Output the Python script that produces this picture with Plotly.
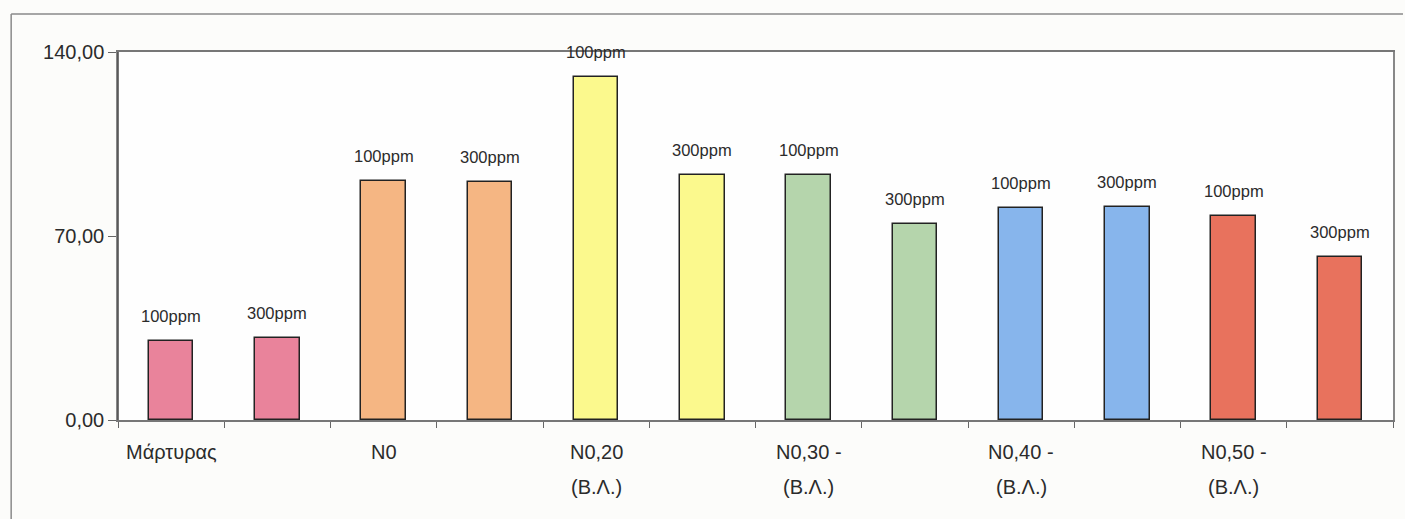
import plotly.graph_objects as go

# Bar heights (12 bars, two doses per treatment)
values = [30.0, 31.1, 90.9, 90.5, 130.5, 93.2, 93.2, 74.6, 80.7, 80.9, 77.7, 62.0]
doses = ["100ppm", "300ppm", "100ppm", "300ppm", "100ppm", "300ppm",
         "100ppm", "300ppm", "100ppm", "300ppm", "100ppm", "300ppm"]
# Treatment labels, one per pair of bars (line 1, line 2)
treatments_line1 = ["Μάρτυρας", "N0", "N0,20", "N0,30 -", "N0,40 -", "N0,50 -"]
treatments_line2 = ["", "", "(Β.Λ.)", "(Β.Λ.)", "(Β.Λ.)", "(Β.Λ.)"]
treatment_colors = ["#E9839B", "#F5B683", "#FBF98D", "#B5D5AC", "#87B5EC", "#E8725D"]
y_ticks = [0, 70, 140]
y_tick_labels = ["0,00", "70,00", "140,00"]

x_pos = list(range(len(values)))
bar_colors = [treatment_colors[i // 2] for i in x_pos]

FONT = "Liberation Sans, Arial, sans-serif"
TXT = "#2b2b2b"
W, H = 1405, 519
L, R, T, B = 118, 10, 52, 99
pw, ph = W - L - R, H - T - B

fig = go.Figure()
fig.add_trace(go.Bar(
    x=x_pos, y=values, width=0.42,
    marker=dict(color=bar_colors, line=dict(color="#222222", width=1.5)),
    hoverinfo="skip", showlegend=False,
))

annotations = []
for x, v, d in zip(x_pos, values, doses):
    annotations.append(dict(x=x, y=v, xref="x", yref="y", text=d, showarrow=False,
                            yanchor="middle", yshift=25,
                            font=dict(family=FONT, size=16.5, color=TXT)))
for k, (l1, l2) in enumerate(zip(treatments_line1, treatments_line2)):
    annotations.append(dict(x=2 * k, y=0, xref="x", yref="paper", text=l1, showarrow=False,
                            yanchor="middle", yshift=-32,
                            font=dict(family=FONT, size=20, color=TXT)))
    if l2:
        annotations.append(dict(x=2 * k, y=0, xref="x", yref="paper", text=l2, showarrow=False,
                                yanchor="middle", yshift=-67,
                                font=dict(family=FONT, size=20, color=TXT)))

# outer chart frame (top and left edges)
fx0 = (11 - L) / pw
fy0 = (H - B - 14) / ph
fy1 = (H - B - H) / ph
shapes = [
    dict(type="line", xref="paper", yref="paper", x0=fx0, x1=(W - L) / pw, y0=fy0, y1=fy0,
         line=dict(color="#8a8a8a", width=1.5)),
    dict(type="line", xref="paper", yref="paper", x0=fx0, x1=fx0, y0=fy0, y1=fy1,
         line=dict(color="#8a8a8a", width=1.5)),
    # darker value axis on the left edge of the plot
    dict(type="line", xref="paper", yref="paper", x0=0, x1=0, y0=0, y1=1,
         line=dict(color="#4a4a4a", width=1.5)),
]

fig.update_layout(
    width=W, height=H,
    margin=dict(l=L, r=R, t=T, b=B),
    paper_bgcolor="#fcfcfa", plot_bgcolor="#fefefe",
    font=dict(family=FONT, color=TXT),
    annotations=annotations, shapes=shapes,
    bargap=0,
    xaxis=dict(range=[-0.5, 11.5], tickmode="array",
               tickvals=[i + 0.5 for i in range(-1, 12)], ticktext=[""] * 13,
               ticks="outside", ticklen=6, tickcolor="#666666",
               showline=True, linecolor="#777777", linewidth=1.5, mirror=True,
               showgrid=False, zeroline=False, fixedrange=True),
    yaxis=dict(range=[0, 140], tickmode="array", tickvals=y_ticks, ticktext=y_tick_labels,
               ticks="outside", ticklen=8, tickcolor="#666666",
               tickfont=dict(family=FONT, size=20, color=TXT),
               showline=True, linecolor="#888888", linewidth=1.5, mirror=True,
               showgrid=False, zeroline=False, fixedrange=True),
)

fig.write_html("out.html")
